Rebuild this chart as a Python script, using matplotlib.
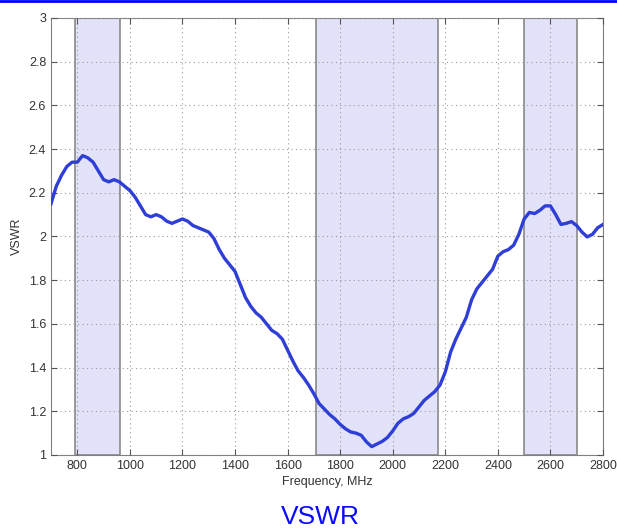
import numpy as np
import matplotlib
matplotlib.use('Agg')
import matplotlib.pyplot as plt
from matplotlib.lines import Line2D

# 频率 (MHz) 与 VSWR 读数
freq = np.arange(700, 2801, 20)
vswr = [
    2.15, 2.23, 2.28, 2.32, 2.34, 2.34, 2.37, 2.36, 2.34, 2.30,   # 700-880
    2.26, 2.25, 2.26, 2.25, 2.23, 2.21, 2.18, 2.14, 2.10, 2.09,   # 900-1080
    2.10, 2.09, 2.07, 2.06, 2.07, 2.08, 2.07, 2.05, 2.04, 2.03,   # 1100-1280
    2.02, 1.99, 1.94, 1.90, 1.87, 1.84, 1.78, 1.72, 1.68, 1.65,   # 1300-1480
    1.63, 1.60, 1.57, 1.555, 1.53, 1.48, 1.43, 1.385, 1.355, 1.32,  # 1500-1680
    1.28, 1.235, 1.21, 1.185, 1.165, 1.14, 1.12, 1.105, 1.10, 1.09,  # 1700-1880
    1.06, 1.038, 1.05, 1.062, 1.08, 1.11, 1.145, 1.165, 1.175, 1.19,  # 1900-2080
    1.22, 1.25, 1.27, 1.29, 1.32, 1.38, 1.47, 1.53, 1.58, 1.63,   # 2100-2280
    1.71, 1.76, 1.79, 1.82, 1.85, 1.91, 1.93, 1.94, 1.96, 2.01,   # 2300-2480
    2.08, 2.11, 2.105, 2.12, 2.14, 2.14, 2.10, 2.055, 2.06, 2.068,  # 2500-2680
    2.05, 2.02, 1.998, 2.01, 2.04, 2.055,                          # 2700-2800
]

# 工作频段
band_lo = [790, 1710, 2500]
band_hi = [962, 2172, 2702]

xticks = [800, 1000, 1200, 1400, 1600, 1800, 2000, 2200, 2400, 2600, 2800]
yticks = [1, 1.2, 1.4, 1.6, 1.8, 2, 2.2, 2.4, 2.6, 2.8, 3]
ytick_labels = ['1', '1.2', '1.4', '1.6', '1.8', '2', '2.2', '2.4', '2.6', '2.8', '3']

plt.rcParams['font.family'] = ['Liberation Sans', 'DejaVu Sans']

fig = plt.figure(figsize=(6.17, 5.29), dpi=100)
ax = fig.add_axes([0.0827, 0.140, 0.8946, 0.826])

for lo, hi in zip(band_lo, band_hi):
    ax.axvspan(lo, hi, facecolor='#e2e3fa', edgecolor='#8a8a8a', linewidth=1.2, zorder=0)

ax.plot(freq, vswr, color='#2e3ed6', linewidth=2.4, zorder=3, solid_joinstyle='round')

ax.set_xlim(700, 2800)
ax.set_ylim(1, 3)
ax.set_xticks(xticks)
ax.set_yticks(yticks)
ax.set_yticklabels(ytick_labels)
ax.grid(True, linestyle=(0, (1, 3)), color='#9a9a9a', linewidth=0.8)
ax.set_axisbelow(False)
ax.tick_params(direction='in', top=True, right=True, labelsize=9, colors='#555555',
               labelcolor='#333333', length=4)
for s in ax.spines.values():
    s.set_color('#808080')

ax.set_xlabel('Frequency, MHz', fontsize=9, color='#333333', labelpad=3)
ax.set_ylabel('VSWR', fontsize=9, color='#333333', labelpad=4)

# 顶部蓝线和标题
fig.add_artist(Line2D([0, 1], [0.998, 0.998], transform=fig.transFigure, color='#0000ff', linewidth=2))
fig.text(0.5195, 0.009, 'VSWR', ha='center', va='baseline', fontsize=19, color='#0a0aff')

fig.savefig('out.png', dpi=100)
